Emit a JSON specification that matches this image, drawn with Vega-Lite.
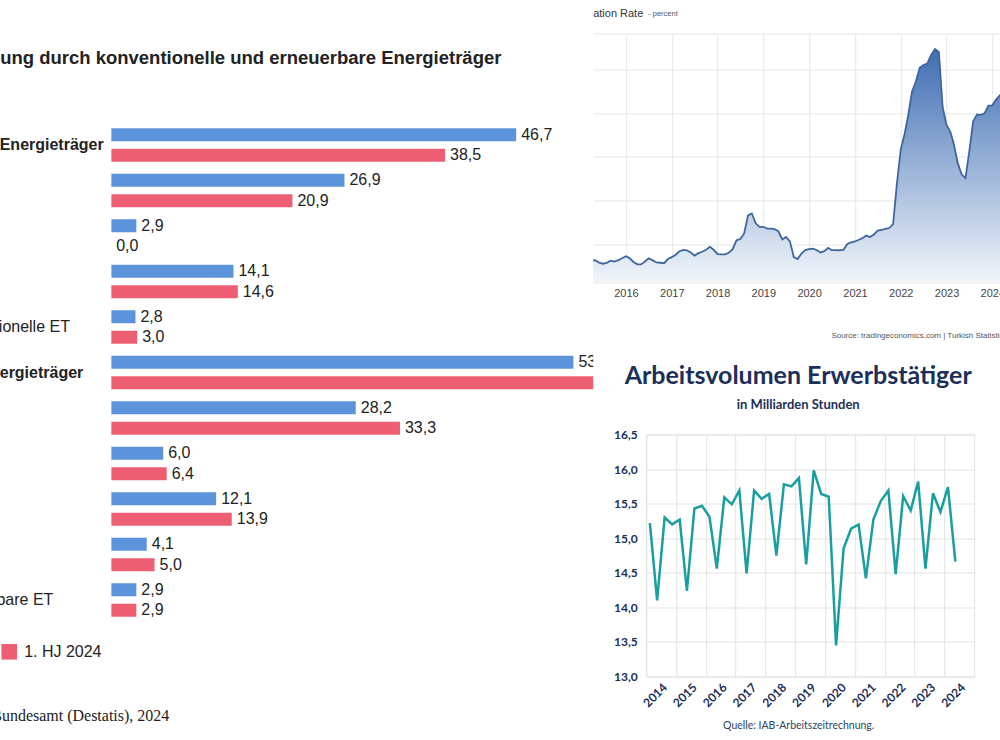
{
  "$schema": "https://vega.github.io/schema/vega-lite/v6.json",
  "padding": {"left": -143.8, "top": 7.5, "right": -38, "bottom": 0},
  "background": "white",
  "spacing": 0,
  "config": {
    "locale": {"number": {"decimal": ",", "thousands": ".", "grouping": [3], "currency": ["", " €"]}},
    "view": {"stroke": null},
    "axis": {"domain": false, "ticks": false}
  },
  "hconcat": [
    {
      "width": 482,
      "height": 589.3,
      "title": {
        "text": "Stromerzeugung durch konventionelle und erneuerbare Energieträger",
        "anchor": "start", "frame": "group", "dx": -224, "offset": -33.5,
        "font": "Liberation Sans", "fontSize": 18.5, "fontWeight": "bold", "color": "#222222"
      },
      "data": {"values": [
        {"kategorie": "Konventionelle Energieträger", "periode": "1. HJ 2023", "wert": 46.7},
        {"kategorie": "Konventionelle Energieträger", "periode": "1. HJ 2024", "wert": 38.5},
        {"kategorie": "Kohle", "periode": "1. HJ 2023", "wert": 26.9},
        {"kategorie": "Kohle", "periode": "1. HJ 2024", "wert": 20.9},
        {"kategorie": "Kernenergie", "periode": "1. HJ 2023", "wert": 2.9},
        {"kategorie": "Kernenergie", "periode": "1. HJ 2024", "wert": 0.0},
        {"kategorie": "Erdgas", "periode": "1. HJ 2023", "wert": 14.1},
        {"kategorie": "Erdgas", "periode": "1. HJ 2024", "wert": 14.6},
        {"kategorie": "Sonstige konventionelle ET", "periode": "1. HJ 2023", "wert": 2.8},
        {"kategorie": "Sonstige konventionelle ET", "periode": "1. HJ 2024", "wert": 3.0},
        {"kategorie": "Erneuerbare Energieträger", "periode": "1. HJ 2023", "wert": 53.3},
        {"kategorie": "Erneuerbare Energieträger", "periode": "1. HJ 2024", "wert": 61.5},
        {"kategorie": "Windkraft", "periode": "1. HJ 2023", "wert": 28.2},
        {"kategorie": "Windkraft", "periode": "1. HJ 2024", "wert": 33.3},
        {"kategorie": "Biogas", "periode": "1. HJ 2023", "wert": 6.0},
        {"kategorie": "Biogas", "periode": "1. HJ 2024", "wert": 6.4},
        {"kategorie": "Photovoltaik", "periode": "1. HJ 2023", "wert": 12.1},
        {"kategorie": "Photovoltaik", "periode": "1. HJ 2024", "wert": 13.9},
        {"kategorie": "Wasserkraft", "periode": "1. HJ 2023", "wert": 4.1},
        {"kategorie": "Wasserkraft", "periode": "1. HJ 2024", "wert": 5.0},
        {"kategorie": "Sonstige erneuerbare ET", "periode": "1. HJ 2023", "wert": 2.9},
        {"kategorie": "Sonstige erneuerbare ET", "periode": "1. HJ 2024", "wert": 2.9}
      ]},
      "encoding": {
        "y": {
          "field": "kategorie", "type": "nominal", "sort": null,
          "scale": {"paddingInner": 0, "paddingOuter": 0.9758, "align": 1},
          "axis": {
            "title": null, "labelAlign": "left", "labelLimit": 400,
            "labelPadding": {"condition": [
              {"test": "datum.value === 'Konventionelle Energieträger' || datum.value === 'Erneuerbare Energieträger'", "value": 231},
              {"test": "datum.value === 'Sonstige konventionelle ET'", "value": 235.5}
            ], "value": 237},
            "labelFont": "Liberation Sans", "labelFontSize": 16, "labelColor": "#222222",
            "labelFontWeight": {"condition": {"test": "datum.value === 'Konventionelle Energieträger' || datum.value === 'Erneuerbare Energieträger'", "value": "bold"}, "value": "normal"},
            "ticks": false, "domain": false
          }
        },
        "yOffset": {"field": "periode", "type": "nominal", "scale": {"paddingInner": 0.366, "paddingOuter": 0.293}},
        "x": {
          "field": "wert", "type": "quantitative",
          "scale": {"domain": [0, 55.58], "nice": false, "zero": true},
          "axis": {
            "title": "Quelle: Statistisches Bundesamt (Destatis), 2024",
            "labels": false, "grid": false, "ticks": false, "domain": false,
            "titleX": -254.5, "titleY": 93, "titleAlign": "left", "titleBaseline": "middle",
            "titleFont": "Liberation Serif", "titleFontSize": 16, "titleFontWeight": "normal", "titleColor": "#222222"
          }
        }
      },
      "layer": [
        {
          "mark": {"type": "bar", "clip": true},
          "encoding": {
            "color": {
              "field": "periode", "type": "nominal",
              "scale": {"domain": ["1. HJ 2023", "1. HJ 2024"], "range": ["#5c94db", "#ef5f73"]},
              "legend": {
                "title": null, "orient": "none", "legendX": -231, "legendY": 610.3, "direction": "horizontal",
                "symbolType": "square", "symbolSize": 243, "symbolStrokeWidth": 0, "symbolOpacity": 1,
                "labelFont": "Liberation Sans", "labelFontSize": 16, "labelColor": "#222222",
                "labelOffset": 7, "columnPadding": 20, "padding": 0
              }
            }
          }
        },
        {
          "mark": {"type": "text", "clip": true, "align": "left", "baseline": "middle", "dx": 5,
                   "font": "Liberation Sans", "fontSize": 16, "color": "#222222"},
          "encoding": {"text": {"field": "wert", "type": "quantitative", "format": ".1f"}}
        }
      ]
    },
    {
      "spacing": 23,
      "vconcat": [
        {
          "width": 407,
          "height": 248.8,
          "title": {"text": "ation Rate", "anchor": "start", "frame": "group", "offset": -9.3,
                    "font": "Liberation Sans", "fontSize": 11, "fontWeight": "normal", "color": "#333333"},
          "data": {"values": [
            {"monat": "2015-01-01", "wert": 7.24}, {"monat": "2015-02-01", "wert": 7.55}, {"monat": "2015-03-01", "wert": 7.61},
            {"monat": "2015-04-01", "wert": 7.91}, {"monat": "2015-05-01", "wert": 8.09}, {"monat": "2015-06-01", "wert": 7.20},
            {"monat": "2015-07-01", "wert": 6.81}, {"monat": "2015-08-01", "wert": 7.14}, {"monat": "2015-09-01", "wert": 7.95},
            {"monat": "2015-10-01", "wert": 7.58}, {"monat": "2015-11-01", "wert": 8.10}, {"monat": "2015-12-01", "wert": 8.81},
            {"monat": "2016-01-01", "wert": 9.58}, {"monat": "2016-02-01", "wert": 8.78}, {"monat": "2016-03-01", "wert": 7.46},
            {"monat": "2016-04-01", "wert": 6.57}, {"monat": "2016-05-01", "wert": 6.58}, {"monat": "2016-06-01", "wert": 7.64},
            {"monat": "2016-07-01", "wert": 8.79}, {"monat": "2016-08-01", "wert": 8.05}, {"monat": "2016-09-01", "wert": 7.28},
            {"monat": "2016-10-01", "wert": 7.16}, {"monat": "2016-11-01", "wert": 7.00}, {"monat": "2016-12-01", "wert": 8.53},
            {"monat": "2017-01-01", "wert": 9.22}, {"monat": "2017-02-01", "wert": 10.13}, {"monat": "2017-03-01", "wert": 11.29},
            {"monat": "2017-04-01", "wert": 11.87}, {"monat": "2017-05-01", "wert": 11.72}, {"monat": "2017-06-01", "wert": 10.90},
            {"monat": "2017-07-01", "wert": 9.79}, {"monat": "2017-08-01", "wert": 10.68}, {"monat": "2017-09-01", "wert": 11.20},
            {"monat": "2017-10-01", "wert": 11.90}, {"monat": "2017-11-01", "wert": 12.98}, {"monat": "2017-12-01", "wert": 11.92},
            {"monat": "2018-01-01", "wert": 10.35}, {"monat": "2018-02-01", "wert": 10.26}, {"monat": "2018-03-01", "wert": 10.23},
            {"monat": "2018-04-01", "wert": 10.85}, {"monat": "2018-05-01", "wert": 12.15}, {"monat": "2018-06-01", "wert": 15.39},
            {"monat": "2018-07-01", "wert": 15.85}, {"monat": "2018-08-01", "wert": 17.90}, {"monat": "2018-09-01", "wert": 24.52},
            {"monat": "2018-10-01", "wert": 25.24}, {"monat": "2018-11-01", "wert": 21.62}, {"monat": "2018-12-01", "wert": 20.30},
            {"monat": "2019-01-01", "wert": 20.35}, {"monat": "2019-02-01", "wert": 19.67}, {"monat": "2019-03-01", "wert": 19.71},
            {"monat": "2019-04-01", "wert": 19.50}, {"monat": "2019-05-01", "wert": 18.71}, {"monat": "2019-06-01", "wert": 15.72},
            {"monat": "2019-07-01", "wert": 16.65}, {"monat": "2019-08-01", "wert": 15.01}, {"monat": "2019-09-01", "wert": 9.26},
            {"monat": "2019-10-01", "wert": 8.55}, {"monat": "2019-11-01", "wert": 10.56}, {"monat": "2019-12-01", "wert": 11.84},
            {"monat": "2020-01-01", "wert": 12.15}, {"monat": "2020-02-01", "wert": 12.37}, {"monat": "2020-03-01", "wert": 11.86},
            {"monat": "2020-04-01", "wert": 10.94}, {"monat": "2020-05-01", "wert": 11.39}, {"monat": "2020-06-01", "wert": 12.62},
            {"monat": "2020-07-01", "wert": 11.76}, {"monat": "2020-08-01", "wert": 11.77}, {"monat": "2020-09-01", "wert": 11.75},
            {"monat": "2020-10-01", "wert": 11.89}, {"monat": "2020-11-01", "wert": 14.03}, {"monat": "2020-12-01", "wert": 14.60},
            {"monat": "2021-01-01", "wert": 14.97}, {"monat": "2021-02-01", "wert": 15.61}, {"monat": "2021-03-01", "wert": 16.19},
            {"monat": "2021-04-01", "wert": 17.14}, {"monat": "2021-05-01", "wert": 16.59}, {"monat": "2021-06-01", "wert": 17.53},
            {"monat": "2021-07-01", "wert": 18.95}, {"monat": "2021-08-01", "wert": 19.25}, {"monat": "2021-09-01", "wert": 19.58},
            {"monat": "2021-10-01", "wert": 19.89}, {"monat": "2021-11-01", "wert": 21.31}, {"monat": "2021-12-01", "wert": 36.08},
            {"monat": "2022-01-01", "wert": 48.69}, {"monat": "2022-02-01", "wert": 54.44}, {"monat": "2022-03-01", "wert": 61.14},
            {"monat": "2022-04-01", "wert": 69.97}, {"monat": "2022-05-01", "wert": 73.50}, {"monat": "2022-06-01", "wert": 78.62},
            {"monat": "2022-07-01", "wert": 79.60}, {"monat": "2022-08-01", "wert": 80.21}, {"monat": "2022-09-01", "wert": 83.45},
            {"monat": "2022-10-01", "wert": 85.51}, {"monat": "2022-11-01", "wert": 84.39}, {"monat": "2022-12-01", "wert": 64.27},
            {"monat": "2023-01-01", "wert": 57.68}, {"monat": "2023-02-01", "wert": 55.18}, {"monat": "2023-03-01", "wert": 50.51},
            {"monat": "2023-04-01", "wert": 43.68}, {"monat": "2023-05-01", "wert": 39.59}, {"monat": "2023-06-01", "wert": 38.21},
            {"monat": "2023-07-01", "wert": 47.83}, {"monat": "2023-08-01", "wert": 58.94}, {"monat": "2023-09-01", "wert": 61.53},
            {"monat": "2023-10-01", "wert": 61.36}, {"monat": "2023-11-01", "wert": 61.98}, {"monat": "2023-12-01", "wert": 64.77},
            {"monat": "2024-01-01", "wert": 64.86}, {"monat": "2024-02-01", "wert": 67.07}, {"monat": "2024-03-01", "wert": 68.50},
            {"monat": "2024-04-01", "wert": 69.80}
          ]},
          "encoding": {
            "x": {
              "field": "monat", "type": "temporal",
              "scale": {"type": "utc", "domain": [{"year": 2015, "month": 4, "date": 15, "utc": true}, {"year": 2024, "month": 3, "date": 4, "utc": true}]},
              "axis": {
                "values": [
                  {"year": 2016, "month": 1, "date": 1, "utc": true}, {"year": 2017, "month": 1, "date": 1, "utc": true},
                  {"year": 2018, "month": 1, "date": 1, "utc": true}, {"year": 2019, "month": 1, "date": 1, "utc": true},
                  {"year": 2020, "month": 1, "date": 1, "utc": true}, {"year": 2021, "month": 1, "date": 1, "utc": true},
                  {"year": 2022, "month": 1, "date": 1, "utc": true}, {"year": 2023, "month": 1, "date": 1, "utc": true},
                  {"year": 2024, "month": 1, "date": 1, "utc": true}
                ],
                "format": "%Y", "grid": true, "gridColor": "#e6e6e6", "labelFlush": false, "labelOverlap": false,
                "labelFont": "Liberation Sans", "labelFontSize": 11, "labelColor": "#444444", "labelPadding": 5,
                "title": "Source: tradingeconomics.com | Turkish Statistical Institute",
                "titleX": 237.7, "titleY": 53.5, "titleAlign": "left", "titleBaseline": "middle",
                "titleFont": "Liberation Sans", "titleFontSize": 8, "titleFontWeight": "normal", "titleColor": "#555555"
              }
            },
            "y": {
              "field": "wert", "type": "quantitative",
              "scale": {"domain": [0, 91.2], "nice": false, "zero": true},
              "axis": {
                "values": [0, 14, 30, 46, 62, 78, 91.2], "grid": true, "gridColor": "#e6e6e6", "labels": false,
                "title": "- percent", "titleAngle": 0, "titleX": 54.5, "titleY": -17.7, "titleAlign": "left", "titleBaseline": "alphabetic",
                "titleFont": "Liberation Sans", "titleFontSize": 7.5, "titleFontWeight": "normal", "titleColor": "#555555"
              }
            }
          },
          "layer": [
            {
              "mark": {
                "type": "area", "clip": true,
                "color": {"gradient": "linear", "x1": 0, "y1": 0, "x2": 0, "y2": 1,
                          "stops": [{"offset": 0, "color": "#3f6db2"}, {"offset": 1, "color": "#f2f6fb"}]}
              }
            },
            {
              "mark": {"type": "line", "clip": true, "color": "#3f679e", "strokeWidth": 1.8}
            }
          ]
        },
        {
          "spacing": 0,
          "hconcat": [
            {
              "width": 1,
              "height": 1,
              "data": {"values": []},
              "mark": {"type": "point", "opacity": 0},
              "encoding": {}
            },
            {
              "width": 328,
              "height": 242,
              "view": {"stroke": "#e3e3e3"},
              "title": {
                "text": "Arbeitsvolumen Erwerbstätiger", "subtitle": "in Milliarden Stunden",
                "anchor": "middle", "frame": "group", "dx": -12, "offset": 16,
                "font": "Lato", "fontSize": 25, "fontWeight": "bold", "color": "#1b2f5a",
                "subtitleFont": "Lato", "subtitleFontSize": 13, "subtitleFontWeight": "bold", "subtitleColor": "#1b2f5a", "subtitlePadding": 10
              },
              "data": {"values": [
                {"quartal": "2014-02-15", "wert": 15.22}, {"quartal": "2014-05-15", "wert": 14.10}, {"quartal": "2014-08-15", "wert": 15.30}, {"quartal": "2014-11-15", "wert": 15.20},
                {"quartal": "2015-02-15", "wert": 15.27}, {"quartal": "2015-05-15", "wert": 14.24}, {"quartal": "2015-08-15", "wert": 15.43}, {"quartal": "2015-11-15", "wert": 15.47},
                {"quartal": "2016-02-15", "wert": 15.31}, {"quartal": "2016-05-15", "wert": 14.56}, {"quartal": "2016-08-15", "wert": 15.59}, {"quartal": "2016-11-15", "wert": 15.49},
                {"quartal": "2017-02-15", "wert": 15.69}, {"quartal": "2017-05-15", "wert": 14.49}, {"quartal": "2017-08-15", "wert": 15.69}, {"quartal": "2017-11-15", "wert": 15.57},
                {"quartal": "2018-02-15", "wert": 15.64}, {"quartal": "2018-05-15", "wert": 14.75}, {"quartal": "2018-08-15", "wert": 15.78}, {"quartal": "2018-11-15", "wert": 15.75},
                {"quartal": "2019-02-15", "wert": 15.87}, {"quartal": "2019-05-15", "wert": 14.62}, {"quartal": "2019-08-15", "wert": 15.98}, {"quartal": "2019-11-15", "wert": 15.64},
                {"quartal": "2020-02-15", "wert": 15.60}, {"quartal": "2020-05-15", "wert": 13.45}, {"quartal": "2020-08-15", "wert": 14.85}, {"quartal": "2020-11-15", "wert": 15.14},
                {"quartal": "2021-02-15", "wert": 15.20}, {"quartal": "2021-05-15", "wert": 14.42}, {"quartal": "2021-08-15", "wert": 15.27}, {"quartal": "2021-11-15", "wert": 15.54},
                {"quartal": "2022-02-15", "wert": 15.69}, {"quartal": "2022-05-15", "wert": 14.48}, {"quartal": "2022-08-15", "wert": 15.61}, {"quartal": "2022-11-15", "wert": 15.40},
                {"quartal": "2023-02-15", "wert": 15.82}, {"quartal": "2023-05-15", "wert": 14.56}, {"quartal": "2023-08-15", "wert": 15.65}, {"quartal": "2023-11-15", "wert": 15.38},
                {"quartal": "2024-02-15", "wert": 15.74}, {"quartal": "2024-05-15", "wert": 14.66}
              ]},
              "mark": {"type": "line", "color": "#1a9fa0", "strokeWidth": 2.5, "clip": true},
              "encoding": {
                "x": {
                  "field": "quartal", "type": "temporal",
                  "scale": {"type": "utc", "domain": [{"year": 2014, "month": 1, "date": 1, "utc": true}, {"year": 2025, "month": 1, "date": 1, "utc": true}]},
                  "axis": {
                    "values": [
                      {"year": 2014, "month": 1, "date": 1, "utc": true}, {"year": 2015, "month": 1, "date": 1, "utc": true},
                      {"year": 2016, "month": 1, "date": 1, "utc": true}, {"year": 2017, "month": 1, "date": 1, "utc": true},
                      {"year": 2018, "month": 1, "date": 1, "utc": true}, {"year": 2019, "month": 1, "date": 1, "utc": true},
                      {"year": 2020, "month": 1, "date": 1, "utc": true}, {"year": 2021, "month": 1, "date": 1, "utc": true},
                      {"year": 2022, "month": 1, "date": 1, "utc": true}, {"year": 2023, "month": 1, "date": 1, "utc": true},
                      {"year": 2024, "month": 1, "date": 1, "utc": true}
                    ],
                    "format": "%Y", "labelAngle": -45, "labelOffset": 14.9, "labelFlush": false, "labelOverlap": false,
                    "grid": true, "gridColor": "#e3e3e3",
                    "labelFont": "Lato", "labelFontSize": 12, "labelFontWeight": "bold", "labelColor": "#1b2f5a", "labelPadding": 5,
                    "title": "Quelle: IAB-Arbeitszeitrechnung.", "titleX": 152, "titleY": 49, "titleAlign": "center", "titleBaseline": "middle",
                    "titleFont": "Lato", "titleFontSize": 10.5, "titleFontWeight": "normal", "titleColor": "#2d3f63"
                  }
                },
                "y": {
                  "field": "wert", "type": "quantitative",
                  "scale": {"domain": [13, 16.5], "nice": false, "zero": false},
                  "axis": {
                    "values": [13, 13.5, 14, 14.5, 15, 15.5, 16, 16.5], "format": ".1f",
                    "grid": true, "gridColor": "#e3e3e3", "title": null, "minExtent": 51,
                    "labelFont": "Lato", "labelFontSize": 12, "labelFontWeight": "bold", "labelColor": "#1b2f5a", "labelPadding": 9
                  }
                }
              }
            }
          ]
        }
      ]
    }
  ]
}
